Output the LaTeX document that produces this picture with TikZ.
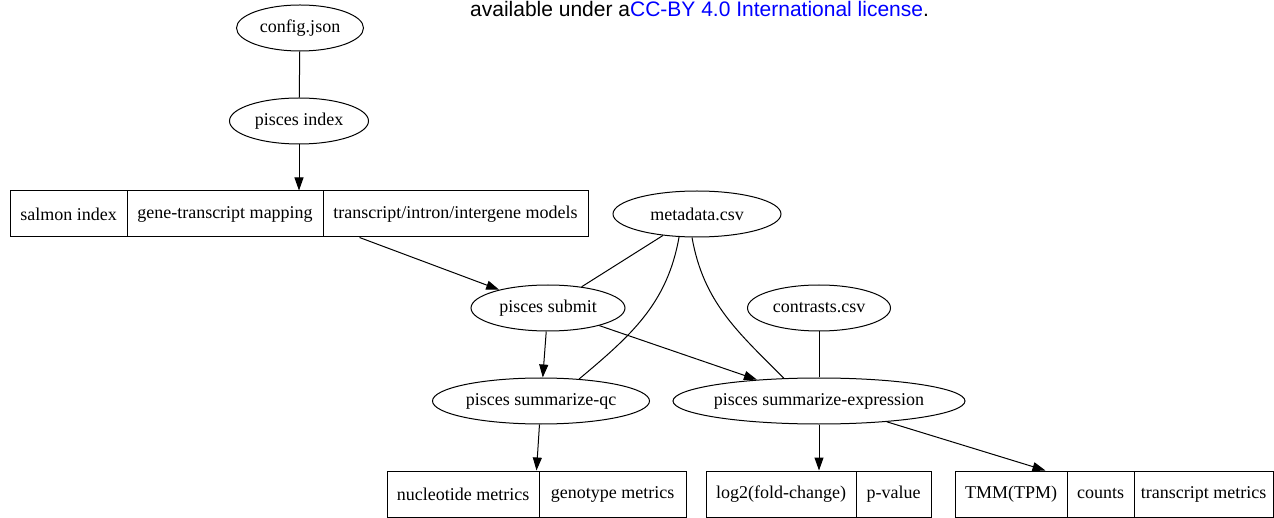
\documentclass[tikz,border=0pt]{standalone}
\usepackage{fontspec}
\setmainfont{Liberation Serif}
\newfontfamily\licfont{Liberation Sans}
\usetikzlibrary{shapes.geometric,arrows.meta,calc}

\tikzset{
  task/.style={draw,ellipse,line width=1pt,inner sep=0pt,minimum height=46pt,minimum width=#1},%楕円
  field/.style={draw,rectangle,line width=1pt,inner sep=0pt,minimum height=46pt,minimum width=#1},%レコード欄
  link/.style={line width=1pt},%矢印なし
  flow/.style={line width=1pt,-{Triangle[length=13pt,width=9pt]}},%矢印
}

\begin{document}
\begin{tikzpicture}[x=1pt,y=-1pt,font=\fontsize{18}{21}\selectfont]
       \useasboundingbox(0,0)rectangle(1274,518);%枠
       \node[anchor=base west,inner sep=0pt,font=\licfont\fontsize{21}{24}\selectfont](lic)at(470,17)
           {available under a\textcolor{blue}{CC-BY 4.0 International license}.};%ライセンス

       \node[task=127pt,label=center:config.json](config)at(300,28){};%設定
       \node[task=139pt,label=center:pisces index](index)at(299,121){};%index
       \node[task=168pt,label=center:metadata.csv](meta)at(697,214){};%メタデータ
       \node[task=154pt,label=center:pisces submit](submit)at(548,308){};%submit
       \node[task=143pt,label=center:contrasts.csv](contr)at(819,308){};%contrasts
       \node[task=217pt,label=center:pisces summarize-qc](sqc)at(541,401){};%QC
       \node[task=292pt,label=center:pisces summarize-expression](sexp)at(819,401){};%発現

       \node[field=117pt](salmon)at(68.5,214){salmon index};%上段レコード
       \node[field=196pt](gmap)at(225,214){gene-transcript mapping};
       \node[field=265pt](models)at(455.5,214){transcript/intron/intergene models};

       \node[field=152pt](nucmet)at(463,494){nucleotide metrics};%下段レコード
       \node[field=147pt](genmet)at(612.5,494){genotype metrics};
       \node[field=150pt](lfc)at(781,494){log2(fold-change)};
       \node[field=75pt](pval)at(893.5,494){p-value};
       \node[field=112pt](tmm)at(1011,494){TMM(TPM)};
       \node[field=67pt](counts)at(1100.5,494){counts};
       \node[field=139pt](txmet)at(1203.5,494){transcript metrics};

       \draw[link](config)--(index);%config--index
       \draw[flow](index)--(index|-gmap.north);%index->レコード
       \draw[flow]([xshift=37pt]models.south west)--(submit);%models->submit
       \draw[link](meta)--(submit);
       \draw[link](meta.232)to[out=-100,in=40](sqc.30);%曲線
       \draw[link](meta.258)to[out=-80,in=135](sexp.147);%曲線
       \draw[link](contr)--(sexp);
       \draw[flow](submit)--(sqc);
       \draw[flow](submit)--(sexp);
       \draw[flow](sqc)--([xshift=-3pt]nucmet.north east);
       \draw[flow](sexp)--(sexp|-lfc.north);
       \draw[flow](sexp)--([xshift=-22pt]tmm.north east);
      \end{tikzpicture}
\end{document}
